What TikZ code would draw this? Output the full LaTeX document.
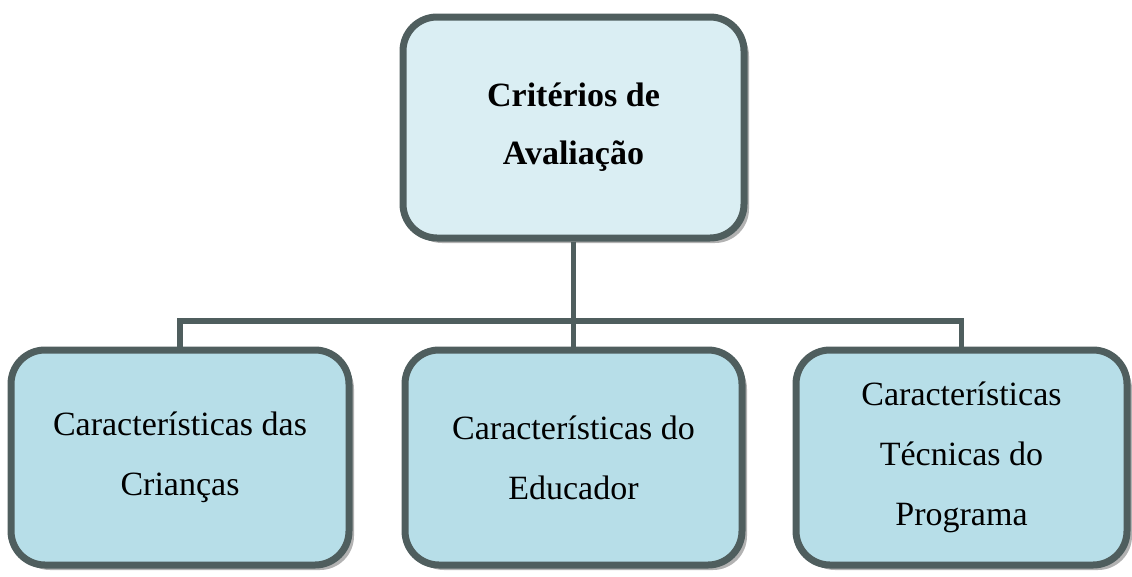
\documentclass[tikz,border=0pt]{standalone}
\usepackage{fontspec}
\setmainfont{Liberation Serif}
\usetikzlibrary{shadows}
\definecolor{edge}{HTML}{4F5E5E}
\definecolor{topfill}{HTML}{DAEEF3}
\definecolor{boxfill}{HTML}{B7DEE8}
\begin{document}
\begin{tikzpicture}[x=1pt,y=-1pt,
	box/.style={draw=edge, line width=7pt, rounded corners=34pt, fill=boxfill,
		drop shadow={shadow xshift=5pt, shadow yshift=-5pt, fill=black!30, opacity=1},
		align=center, inner sep=0pt, font=\fontsize{34}{60}\selectfont},
	link/.style={draw=edge, line width=5.5pt}]
	\useasboundingbox (0,0) rectangle (1132,576);
	\node[box, fill=topfill, minimum width=341pt, minimum height=221pt, font=\fontsize{34}{58}\selectfont\bfseries] (crit) at (573.5,127.5) {Critérios de\\Avaliação};
	\node[box, minimum width=338pt, minimum height=215pt] (kids) at (180,457.5) {Características das\\Crianças};
	\node[box, minimum width=337pt, minimum height=215pt] (educ) at (573.5,457.5) {Características do\\Educador};
	\node[box, minimum width=331pt, minimum height=215pt] (prog) at (961.5,457.5) {Características\\Técnicas do\\Programa};
	\coordinate (bus) at (573.5,321);
	\draw[link] (crit.south) -- (educ.north);
	\draw[link] (kids.north) -- (kids.north |- bus) -- (prog.north |- bus) -- (prog.north);
\end{tikzpicture}
\end{document}
